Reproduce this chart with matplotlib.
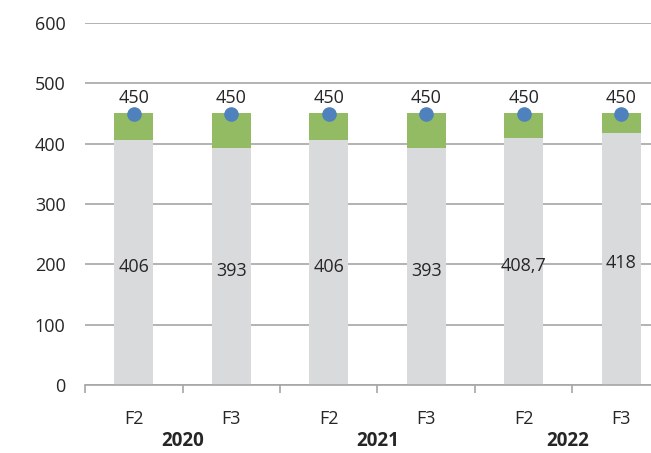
import matplotlib.pyplot as plt

plt.rcParams["font.family"] = ["Open Sans", "DejaVu Sans"]

years = ["2020", "2021", "2022"]
year_positions = [0.5, 2.5, 4.45]
categories = ["F2", "F3", "F2", "F3", "F2", "F3"]
base_values = [406, 393, 406, 393, 408.7, 418]
totals = [450, 450, 450, 450, 450, 450]
base_labels = ["406", "393", "406", "393", "408,7", "418"]

GRAY = "#D9DADC"
GREEN = "#92BB63"
BLUE = "#4F81BD"
TEXT = "#262626"
GRID = "#A6A6A6"


def main() -> None:
    fig = plt.figure(figsize=(6.51, 4.53), dpi=100)
    # axes extend past the right edge like the cropped original
    ax = fig.add_axes([85 / 651, 1 - 385 / 453, 585 / 651, 362 / 453])

    x = list(range(len(categories)))
    gaps = [t - b for t, b in zip(totals, base_values)]

    ax.bar(x, base_values, width=0.4, color=GRAY, zorder=2)
    ax.bar(x, gaps, width=0.4, bottom=base_values, color=GREEN, zorder=2)
    ax.scatter(x, totals, s=90, color=BLUE, zorder=3)

    for xi, b, lab in zip(x, base_values, base_labels):
        ax.text(xi, b / 2 - 7, lab, ha="center", va="center", fontsize=13, color=TEXT, zorder=4)
    for xi, t in zip(x, totals):
        ax.text(xi, t + 10, str(t), ha="center", va="bottom", fontsize=13, color=TEXT, zorder=4)

    ax.set_xlim(-0.5, len(categories) - 0.5)
    ax.set_ylim(0, 600)
    ax.set_yticks(range(0, 601, 100))
    ax.yaxis.grid(True, color=GRID, linewidth=1.2, zorder=0)
    ax.tick_params(axis="y", length=0, labelsize=13, labelcolor=TEXT, pad=14)

    ax.set_xticks([i - 0.5 for i in range(len(categories) + 1)])
    ax.set_xticklabels([])
    ax.tick_params(axis="x", length=6, color=GRID, width=1.2)
    ax.set_xticks(x, minor=True)
    ax.set_xticklabels(categories, minor=True)
    ax.tick_params(axis="x", which="minor", length=0, labelsize=13, labelcolor=TEXT, pad=18)

    for pos, yr in zip(year_positions, years):
        ax.text(pos, -0.155, yr, transform=ax.get_xaxis_transform(),
                ha="center", va="center", fontsize=13.5, fontweight="bold", color=TEXT)

    for side in ["top", "right", "left"]:
        ax.spines[side].set_visible(False)
    ax.spines["bottom"].set_color(GRID)
    ax.spines["bottom"].set_linewidth(1.2)

    fig.savefig("out.png", dpi=100)


if __name__ == "__main__":
    main()
